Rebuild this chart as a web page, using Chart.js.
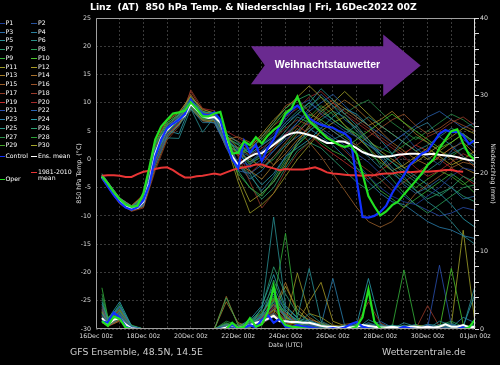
<!DOCTYPE html>
<html>
<head>
<meta charset="utf-8">
<script src="https://cdn.jsdelivr.net/npm/chart.js@4.4.1/dist/chart.umd.min.js"></script>
<style>
  body { margin: 0; background: #000; }
  #wrap { position: relative; width: 500px; height: 365px; background: #000; overflow: hidden;
          font-family: "DejaVu Sans", sans-serif; }
  #chart { position: absolute; left: 0; top: 0; }
  .title { position: absolute; left: 90px; top: 1px; color: #fff; font-weight: bold; font-size: 9.3px; white-space: pre; }
  .foot { position: absolute; top: 346px; color: #ccc; font-size: 9.3px; white-space: pre; }
  .lg { position: absolute; color: #fff; font-size: 6.2px; line-height: 1; white-space: pre; transform: translateY(-50%); }
  .sw { position: absolute; height: 1px; }
</style>
</head>
<body>
<div id="wrap">
  <canvas id="chart" width="500" height="365"></canvas>
  <div class="title">Linz  (AT)  850 hPa Temp. &amp; Niederschlag | Fri, 16Dec2022 00Z</div>
  <div class="foot" style="left:70px">GFS Ensemble, 48.5N, 14.5E</div>
  <div class="foot" style="left:382px">Wetterzentrale.de</div>
  <div id="legend"></div>
</div>
<script>
// forecast hours (since 16Dec 00z)
const MAIN_HOURS = [6,12,18,24,30,36,42,48,54,60,66,72,78,84,90,96,102,108,114,120,126,132,138,144,150,156,162,168,174,180,186,192,198,204,210,216,222,228,234,240,246,252,258,264,270,276,282,288,294,300,306,312,318,324,330,336,342,348,354,360,366,372,378,384];
const PERT_HOURS = [6,12,24,36,48,60,72,84,96,108,120,132,144,156,168,180,192,204,216,228,240,252,264,276,288,300,312,324,336,348,360,372,384];
const X_TICK_LABELS = ['16Dec 00z','18Dec 00z','20Dec 00z','22Dec 00z','24Dec 00z','26Dec 00z','28Dec 00z','30Dec 00z','01Jan 00z'];

// 850 hPa temperature (°C)
const ENS_MEAN_TEMP = [-3.1,-4.5,-6.0,-7.3,-8.2,-8.7,-8.6,-7.5,-4.0,1.0, 3.8,5.2,6.3,7.0,7.8,9.8,8.8,7.6,7.3,7.5, 6.5,3.5,0.5,-1.0,-0.2,0.5,1.0,1.1,1.8,2.6, 3.4,4.2,4.6,4.8,4.6,4.3,4.0,3.4,2.9,2.9, 3.2,3.1,2.6,2.0,1.3,0.9,0.6,0.4,0.5,0.6, 0.8,0.9,1.0,1.0,0.9,0.9,1.0,0.8,0.7,0.6, 0.4,0.1,-0.1,-0.2];
const CONTROL_TEMP = [-3.2,-4.8,-6.3,-7.6,-8.5,-8.9,-8.5,-7.2,-4.5,0.5, 3.5,5.5,6.3,7.0,8.0,10.5,9.0,8.0,7.8,8.3, 7.0,3.0,0.0,-1.5,3.3,1.2,2.6,-0.3,2.0,3.5, 6.0,7.8,8.8,9.5,8.5,7.3,6.6,6.1,5.8,5.6, 5.0,4.6,3.6,-3.5,-10.2,-10.3,-10.0,-9.3,-8.2,-6.0, -4.3,-2.8,-1.0,0.0,1.0,1.5,3.0,4.5,5.2,4.8, 4.9,4.2,2.7,3.4];
const OPER_TEMP = [-3.0,-4.3,-5.8,-7.0,-8.0,-8.4,-8.2,-6.0,-1.5,3.5, 5.8,7.0,8.1,8.3,8.6,10.1,9.0,7.6,7.6,8.1, 8.4,4.5,1.0,1.2,3.2,2.5,3.9,2.8,4.2,5.2, 6.0,8.1,9.0,11.1,8.5,6.8,5.8,4.8,3.8,3.2, 2.6,2.2,2.5,1.0,-2.5,-6.5,-8.3,-9.9,-9.2,-8.1, -7.5,-6.2,-5.0,-3.8,-2.5,-1.0,0.0,2.0,3.5,5.0, 5.3,2.8,0.8,-0.1];
const CLIM_TEMP = [-2.9,-2.8,-2.8,-2.9,-3.1,-3.1,-2.6,-2.2,-2.0,-1.7, -1.5,-1.4,-1.9,-2.6,-3.2,-3.2,-3.0,-2.9,-2.7,-2.5, -2.7,-2.3,-1.9,-1.6,-1.4,-1.2,-0.9,-0.9,-1.3,-1.6, -1.9,-1.7,-1.8,-1.8,-1.8,-1.6,-1.4,-1.8,-2.3,-2.5, -2.6,-2.7,-2.8,-2.8,-2.9,-2.8,-2.8,-2.6,-2.5,-2.5, -2.3,-2.2,-2.3,-2.2,-2.1,-2.2,-2.1,-2.0,-1.9,-1.9, -2.1,-2.2,null,null];

// precipitation (mm / 6h)
const ENS_MEAN_RAIN = [1.4,0.6,1.2,1.4,0.6,0.1,0,0,0,0, 0,0,0,0,0,0,0,0,0,0, 0,0.2,0.5,0.1,0.3,0.5,0.8,1.0,1.3,1.7, 1.0,1.0,0.9,0.9,0.8,0.8,0.6,0.4,0.3,0.3, 0.2,0.3,0.2,0.3,0.5,0.4,0.3,0.2,0.2,0.3, 0.2,0.2,0.3,0.3,0.2,0.3,0.2,0.3,0.6,0.3, 0.3,0.5,0.2,0.3];
const CONTROL_RAIN = [1.0,0.8,2.1,1.5,0.3,0,0,0,0,0, 0,0,0,0,0,0,0,0,0,0, 0,0,0.6,0,0.2,0.5,0.2,1.2,1.8,0.8, 1.3,0.3,0.2,0.5,0.3,0.2,0.1,0,0,0.1, 0,0.2,0.6,0.9,0.3,0.1,0,0,0,0, 0,0.3,0.1,0,0,0,0,0,0,0, 0,0.2,0,0];
const OPER_RAIN = [1.0,0.4,1.6,1.3,0.2,0,0,0,0,0, 0,0,0,0,0,0,0,0,0,0, 0,0,0.8,0.1,0.3,1.4,0.3,0.6,2.2,5.5, 1.5,0.5,0.3,0.2,0.1,0,0,0,0,0, 0,0,0,0.3,1.5,5.1,1.0,0.1,0,0, 0,0,0,0,0,0,0,0,0,0, 0,0,0.2,1.2];

// perturbations, temperature
const P01_TEMP = [-3.0,-4.6,-7.5,-8.9,-8.0,-0.5,4.5,6.6,9.8,7.4,7.2, 3.0,-0.5,-1.0,1.5,4.0,6.5,8.0,7.0,5.0,3.5,2.0,-0.5,-3.0,-5.0,-6.5,-7.5,-8.0,-6.5,-5.0,-3.0,-1.5,-2.0];
const P02_TEMP = [-3.2,-4.3,-7.0,-8.5,-7.0,1.8,5.8,7.6,10.2,8.0,7.9, 4.0,1.5,0.5,2.5,4.5,7.0,9.5,10.5,8.0,6.5,5.0,4.0,2.5,1.5,3.0,4.5,2.0,0.5,-1.0,1.5,3.5,2.0];
const P03_TEMP = [-2.8,-4.5,-7.4,-8.6,-7.6,0.8,5.0,7.5,10.5,8.2,7.0, 2.0,-2.0,-2.5,-1.0,1.5,4.0,6.5,9.0,11.5,9.5,7.0,5.5,3.0,0.5,-2.0,-4.5,-6.0,-5.0,-3.5,-5.0,-7.0,-6.5];
const P04_TEMP = [-3.3,-4.8,-7.7,-9.0,-8.2,-1.0,4.0,6.0,9.0,6.5,6.5, 2.5,-1.0,-3.0,-5.5,-3.0,0.5,3.0,5.0,6.5,5.0,3.5,2.0,0.5,-1.5,1.0,3.5,5.5,6.5,4.0,2.5,0.5,-1.0];
const P05_TEMP = [-2.5,-4.0,-6.8,-8.3,-6.8,2.0,3.8,3.7,9.0,4.8,7.5, 4.5,3.0,1.0,2.5,4.0,6.0,8.0,10.0,12.5,10.5,8.0,6.0,3.5,1.0,-1.5,-3.0,-5.5,-7.5,-9.0,-11.0,-13.5,-15.0];
const P06_TEMP = [-3.0,-4.5,-7.3,-8.7,-7.5,1.2,5.4,7.2,10.0,7.7,7.4, 3.2,2.0,-0.5,1.0,2.5,5.0,7.5,6.5,5.0,3.5,4.5,6.0,7.5,6.0,4.5,3.0,1.5,2.5,4.0,5.5,4.5,3.0];
const P07_TEMP = [-3.4,-4.9,-7.6,-8.9,-7.2,2.5,6.0,7.8,11.0,8.5,8.0, 4.5,-1.0,-2.5,-6.0,-4.0,-0.5,2.5,5.0,7.0,8.5,7.5,5.0,3.0,1.0,-0.5,-2.5,-4.0,-5.5,-6.5,-5.0,-3.0,-4.0];
const P08_TEMP = [-2.9,-4.3,-7.1,-8.5,-6.5,2.8,6.4,8.0,10.4,8.3,8.3, 4.0,1.0,1.5,4.0,6.5,9.0,10.5,11.5,9.0,7.0,5.5,4.5,2.0,-1.0,-3.5,-6.0,-8.0,-9.5,-8.0,-6.5,-5.0,-4.5];
const P09_TEMP = [-3.1,-4.5,-7.3,-8.7,-7.6,0.5,5.0,6.8,9.6,7.2,7.2, 2.5,-2.5,-5.0,-6.5,-3.5,0.0,2.5,4.5,3.0,1.5,0.5,-1.5,-3.0,-5.5,-7.0,-8.5,-7.0,-5.5,-4.0,-2.5,-4.0,-6.0];
const P10_TEMP = [-3.0,-4.4,-7.2,-8.6,-7.0,1.8,5.6,7.4,10.0,7.8,7.6, 3.8,1.0,2.0,3.5,6.0,8.5,9.5,7.5,5.0,3.0,2.0,3.5,5.0,6.5,8.0,6.5,5.0,3.5,2.0,3.0,4.5,2.5];
const P11_TEMP = [-3.2,-4.7,-7.5,-8.9,-8.1,-0.2,4.3,6.2,9.2,7.0,6.8, 2.8,-4.0,-9.5,-8.0,-6.0,-3.0,0.0,2.5,5.0,6.5,7.5,5.5,3.5,1.5,0.0,-1.5,-0.5,1.0,2.5,4.0,5.5,4.5];
const P12_TEMP = [-2.7,-4.0,-6.9,-8.2,-6.4,3.0,6.8,8.2,11.2,8.8,8.2, 4.2,2.0,2.0,4.5,7.0,9.0,11.0,13.0,11.0,8.5,6.0,4.0,2.0,0.0,-2.0,-1.0,0.5,2.0,0.5,-1.0,0.0,1.5];
const P13_TEMP = [-3.1,-4.6,-7.4,-8.8,-7.7,0.7,4.9,6.9,9.7,7.5,7.3, 3.0,-1.0,-2.0,-3.5,-1.0,2.0,4.5,7.0,9.0,10.5,9.0,7.5,6.0,7.0,8.5,6.5,4.5,3.0,1.5,0.0,-1.5,-2.5];
const P14_TEMP = [-3.3,-4.9,-7.8,-9.1,-8.4,-1.5,3.8,6.1,8.9,6.8,6.6, 3.5,4.0,3.0,1.0,-1.0,1.0,3.5,5.5,7.5,9.0,10.5,9.0,7.0,5.0,3.0,1.5,0.0,-1.0,0.5,2.0,3.0,1.0];
const P15_TEMP = [-3.0,-4.5,-7.3,-8.7,-7.4,1.0,5.3,7.1,11.5,8.2,7.7, 3.0,1.0,0.0,-1.5,0.5,3.0,5.5,3.0,0.5,-2.5,-5.5,-8.5,-11.0,-12.0,-11.0,-8.5,-6.0,-4.5,-3.0,-1.5,-0.5,-1.0];
const P16_TEMP = [-2.9,-4.2,-7.0,-8.4,-6.8,2.2,5.9,7.6,10.1,7.9,7.8, 4.0,3.2,1.8,4.0,6.5,9.5,10.5,8.5,6.5,5.0,3.5,2.5,4.0,5.5,7.0,8.0,6.0,4.5,5.5,7.0,6.0,5.0];
const P17_TEMP = [-3.5,-5.0,-7.9,-9.2,-8.6,-2.0,3.4,5.8,12.3,9.0,8.0, 3.5,0.5,-4.0,-8.6,-6.0,-2.0,1.0,3.0,5.0,3.5,1.5,-0.5,-2.0,-3.5,-5.5,-4.0,-2.5,-1.0,0.5,2.0,0.5,-1.5];
const P18_TEMP = [-3.1,-4.5,-7.3,-8.7,-7.5,1.0,5.2,7.0,12.0,8.6,7.5, 3.2,1.8,0.8,2.0,3.5,5.5,7.0,6.0,8.0,10.0,8.5,7.0,5.5,4.0,2.5,1.0,2.5,4.0,5.0,6.5,7.5,6.0];
const P19_TEMP = [-3.2,-4.8,-7.6,-8.9,-8.0,-0.4,4.4,6.4,10.5,7.6,7.0, 2.0,0.8,-2.5,-0.5,2.0,4.5,6.0,4.5,2.5,1.0,-0.5,-2.0,-3.5,-2.0,-0.5,1.0,2.5,1.5,0.0,-1.5,-3.0,-4.5];
const P20_TEMP = [-2.8,-4.1,-6.8,-8.2,-6.2,3.5,7.0,8.4,11.0,9.0,8.6, 5.0,3.8,2.5,4.0,6.0,7.5,9.0,11.0,12.0,10.0,8.0,6.5,5.0,3.5,2.0,0.5,-1.5,-3.0,-2.0,-0.5,1.0,0.0];
const P21_TEMP = [-3.0,-4.6,-7.4,-8.7,-7.7,0.4,4.8,6.7,9.4,7.3,7.0, 2.5,1.2,-1.5,0.0,1.5,3.5,5.0,6.5,5.5,4.0,2.5,1.0,-0.5,-2.5,-4.5,-6.5,-8.0,-9.0,-10.0,-9.5,-8.5,-9.0];
const P22_TEMP = [-3.3,-4.8,-7.7,-9.0,-8.3,-0.8,4.2,6.3,9.0,6.9,6.4, 2.2,1.6,-0.5,1.5,3.0,4.5,6.5,8.5,10.0,11.5,9.5,7.5,6.0,4.5,3.0,4.5,6.0,7.5,8.5,7.0,5.5,6.5];
const P23_TEMP = [-2.9,-4.4,-7.2,-8.6,-7.1,1.6,5.5,7.3,10.2,7.8,7.7, 3.6,-1.0,-3.5,-2.0,0.5,2.5,4.0,5.5,4.0,2.5,0.5,-1.5,-4.0,-6.0,-7.5,-8.0,-9.5,-11.0,-12.0,-12.5,-13.5,-14.0];
const P24_TEMP = [-3.0,-4.5,-7.3,-8.7,-7.6,0.9,5.1,4.5,9.7,7.5,7.4, 3.4,1.7,-2.0,-4.5,-2.5,0.5,2.0,3.5,5.5,7.5,9.0,8.0,6.0,3.5,1.0,-1.5,-3.0,-4.5,-6.0,-8.0,-10.5,-12.0];
const P25_TEMP = [-3.1,-4.5,-7.3,-8.7,-7.4,1.3,5.4,7.1,9.9,7.7,7.5, 3.7,2.6,1.0,2.5,4.0,6.5,8.5,10.0,8.5,7.0,5.5,4.0,2.5,1.0,-0.5,-2.0,-3.5,-2.0,-0.5,1.0,2.0,0.5];
const P26_TEMP = [-2.8,-4.2,-7.0,-8.3,-6.6,2.6,6.5,7.9,10.6,8.4,8.1, 4.4,-2.0,-5.0,-7.0,-5.0,-1.5,1.5,3.0,2.0,0.0,-2.0,-4.0,-5.5,-4.0,-2.5,-4.0,-5.5,-7.0,-6.0,-5.0,-6.5,-7.5];
const P27_TEMP = [-3.2,-4.7,-7.5,-8.8,-7.9,0.0,4.7,6.5,9.3,7.1,6.9, 2.6,1.3,-1.0,1.0,3.5,6.0,8.0,9.5,11.0,9.5,8.0,9.5,10.5,8.5,6.5,5.0,3.5,5.0,6.5,8.0,7.0,5.5];
const P28_TEMP = [-3.0,-4.5,-7.3,-8.7,-7.3,1.5,5.6,7.3,10.1,7.9,7.7, 3.9,2.7,0.3,-1.5,0.0,2.5,5.0,7.5,9.5,8.0,6.0,4.5,3.0,2.0,1.0,2.5,4.0,3.0,1.5,0.5,2.0,3.5];
const P29_TEMP = [-3.1,-4.6,-7.4,-8.8,-7.8,0.6,5.0,6.9,9.5,7.4,7.1, 3.1,1.9,-0.8,0.5,2.0,4.0,6.0,8.0,7.0,5.5,4.0,2.5,1.0,-0.5,-2.0,-3.5,-5.0,-3.5,-2.0,-3.0,-4.5,-3.0];
const P30_TEMP = [-2.9,-4.3,-7.1,-8.5,-6.9,2.0,6.1,7.8,10.7,8.1,8.0, 4.2,-3.0,-7.5,-6.0,-4.0,-1.0,3.0,6.0,8.5,10.0,12.0,10.0,8.0,6.0,4.5,3.0,1.5,0.0,1.5,3.0,4.5,3.0];

// perturbations, precipitation
const P01_RAIN = [1.8,0.6,1.5,0.2,0,0,0,0,0,0,0, 0.3,0,0.4,0.8,1.5,0.6,0.2,0.5,0,0,0.3,0,0.8,0.2,0,0,0.4,0,0.2,0,0,0];
const P02_RAIN = [1.2,0.5,2.0,0.1,0,0,0,0,0,0,0, 0,0.2,0.6,1.2,2.0,0.8,1.0,0.3,0.5,0,0,0.2,0.5,0,0.3,0,0,0.2,0,0.6,0.3,0];
const P03_RAIN = [2.5,0.9,2.8,0.3,0,0,0,0,0,0,0, 0.5,0,0.3,1.6,3.0,1.8,0.5,1.2,0.4,0.2,0,0,0.3,1.0,0.2,0,0,0.5,0,0.2,0,0.4];
const P04_RAIN = [1.0,0.4,1.3,0,0,0,0,0,0,0,0, 0.2,0.1,0.8,2.0,4.5,2.5,1.0,0.6,0.2,0,0.5,0.3,0,0.2,0,0.3,0,0,0.6,0,0.2,0];
const P05_RAIN = [3.2,1.2,3.0,0.4,0,0,0,0,0,0,0, 0,0,1.0,2.5,14.4,3.0,1.5,7.8,1.0,0.3,0.2,0,1.2,0.5,0,0.8,0.3,0,1.0,0.5,0.2,5.5];
const P06_RAIN = [1.5,0.8,2.2,0.2,0,0,0,0,0,0,0, 0.6,0.3,0.5,1.8,5.0,1.2,0.6,2.0,0.8,0,0.3,0.6,0.2,0,0.5,0.2,0,0.3,0,0.4,0,0.6];
const P07_RAIN = [2.0,0.7,1.8,0.1,0,0,0,0,0,0,0, 0.3,0,0.4,2.8,8.0,4.5,2.0,1.0,0.5,0.2,0,0.4,0.6,0.3,0,0.5,0.2,0,0.3,0.8,0,0.2];
const P08_RAIN = [4.0,1.0,3.2,0.3,0,0,0,0,0,0,0, 4.0,0.5,0.6,1.5,6.3,2.5,0.8,0.5,0.2,0,0.5,0.2,0.8,0.3,0.4,0,0.2,0,0.5,1.0,0.3,0.2];
const P09_RAIN = [5.3,1.5,2.5,0.5,0,0,0,0,0,0,0, 0.8,0.2,0.2,1.0,3.5,12.3,1.2,0.8,0.6,0.2,0,0.5,0.3,0,0.2,7.6,0.5,0,0.3,0.2,0,0.5];
const P10_RAIN = [1.2,0.6,1.9,0.2,0,0,0,0,0,0,0, 0.4,0,0.9,2.2,4.0,1.5,0.7,0.4,0,0.3,0.2,0,0.5,0.2,0,0.3,0,0.2,0,7.8,0.6,0];
const P11_RAIN = [2.2,0.7,1.4,0.1,0,0,0,0,0,0,0, 0.5,0.3,0.2,1.2,2.5,1.0,7.2,2.0,1.5,0.5,0.3,0.2,0,0.4,0.2,0,0.5,0.3,0,0.2,0.5,0];
const P12_RAIN = [1.4,0.5,1.6,0,0,0,0,0,0,0,0, 0.2,0,0.6,0.8,2.0,0.6,0.8,3.5,6.0,1.0,0.4,0,0.2,0,0.3,0.2,0,0,0.4,0.3,0,0.2];
const P13_RAIN = [1.6,0.6,1.2,0.1,0,0,0,0,0,0,0, 3.5,0.8,0.3,0.6,1.8,0.8,3.0,1.5,0.6,0.2,0,0.3,0.5,0.2,0,0.2,0.4,0,0.2,0,0.3,0];
const P14_RAIN = [0.8,0.4,1.0,0,0,0,0,0,0,0,0, 4.2,0.5,0.4,1.0,2.4,6.0,2.0,1.2,0.8,0.3,0,0.2,0,0.3,0.2,0,0,0.4,0,0.2,0,0.3];
const P15_RAIN = [2.6,1.0,2.4,0.2,0,0,0,0,0,0,0, 0.3,0,0.5,1.5,3.2,1.4,0.9,0.5,0.2,0,0.6,0.8,0.3,0.2,0,0.3,0,0.2,0.5,0,0.2,0];
const P16_RAIN = [1.1,0.5,1.7,0.1,0,0,0,0,0,0,0, 0.6,0.2,0.3,0.9,2.2,1.0,0.5,0.8,0.4,0,0.2,0.3,0.5,0,0.2,0,0.3,0,0.2,0.4,0,0];
const P17_RAIN = [3.0,1.1,2.0,0.3,0,0,0,0,0,0,0, 0.2,0,0.8,2.0,3.8,1.6,0.6,0.3,0.2,0.4,0,0.5,3.5,0.8,0,0.2,0,0.3,0,0.2,0,0.2];
const P18_RAIN = [1.7,0.6,1.5,0.1,0,0,0,0,0,0,0, 0.4,0.1,0.2,1.1,2.8,1.1,0.5,0.2,0.6,0.2,0,0.2,0.4,0,0.2,0,0,3.0,0.3,0,0.2,0];
const P19_RAIN = [2.4,0.8,2.6,0.2,0,0,0,0,0,0,0, 0.3,0,0.6,1.4,3.0,2.0,0.8,0.6,0.3,0,0.2,0,0.6,0.2,0,0.4,0.2,0,0,0.3,0,0.4];
const P20_RAIN = [0.9,0.3,1.1,0,0,0,0,0,0,0,0, 0.2,0,0.4,0.7,1.6,0.8,0.3,0.2,0,0.2,0,0.3,0.2,0,0.3,0,0.2,0,0.4,0,0.2,0];
const P21_RAIN = [1.9,0.7,2.1,0.2,0,0,0,0,0,0,0, 0.5,0.2,0.6,1.3,2.6,1.2,0.6,0.4,0.2,0,0.3,0.2,0,0.5,0.2,0,0.3,0.2,8.2,0.5,0,0.3];
const P22_RAIN = [2.8,0.9,2.9,0.3,0,0,0,0,0,0,0, 0.3,0,0.5,1.7,3.4,1.5,1.0,0.6,0.3,0.2,0,0.4,0.5,0.2,0,0.3,0,0.5,0.2,0,0.4,0];
const P23_RAIN = [1.3,0.5,1.8,0.1,0,0,0,0,0,0,0, 0.2,0.4,0.9,2.6,5.5,2.2,1.2,0.8,0.5,6.5,0.4,0.2,0.3,0,0.5,0.2,0.6,0,0.3,0.2,1.5,0.8];
const P24_RAIN = [3.5,1.3,3.5,0.4,0,0,0,0,0,0,0, 0.6,0.3,1.2,3.0,7.0,2.8,1.4,1.0,0.6,0.3,0.2,0.5,6.5,0.6,0.3,0.4,0.2,0.6,0.4,0.5,0.3,4.5];
const P25_RAIN = [1.5,0.6,1.6,0.1,0,0,0,0,0,0,0, 0.4,0.2,0.7,1.6,3.6,1.8,0.7,0.4,0.2,0,0.3,0.2,0.4,0.2,0,0.3,0.2,0,0.2,0.3,0,0.2];
const P26_RAIN = [2.1,0.8,2.3,0.2,0,0,0,0,0,0,0, 0.7,0.3,0.6,1.9,4.2,2.0,0.9,0.7,0.3,0.2,0,0.6,0.4,0.3,0.2,0,0.5,0.2,0,0.4,0.2,0.5];
const P27_RAIN = [4.5,1.4,2.7,0.4,0,0,0,0,0,0,0, 1.0,0.5,0.4,1.3,3.2,1.6,0.8,0.6,0.3,0.2,0.3,0.2,0.6,0.2,0.4,0.2,0,0.3,0.2,0,0.5,0.3];
const P28_RAIN = [1.8,0.7,2.0,0.2,0,0,0,0,0,0,0, 0.5,0.1,0.3,1.8,4.8,1.7,0.6,0.5,0.3,0,0.2,0.3,0.5,0,0.2,0.3,0,0.2,0.3,0.6,0,0.2];
const P29_RAIN = [2.3,0.8,2.2,0.2,0,0,0,0,0,0,0, 0.6,0.2,0.5,1.5,3.8,2.2,1.1,0.5,0.4,0.2,0,0.2,0.3,0.2,0,0.4,0.2,0,0.2,0.5,0.4,0.3];
const P30_RAIN = [1.0,0.4,1.2,0,0,0,0,0,0,0,0, 0.3,0,0.4,0.8,2.0,5.5,2.5,1.0,0.5,0.2,0,0.3,0.2,0,0.3,0,0.2,0.3,0,0.5,12.7,0.8];

const PERT_TEMP = [P01_TEMP,P02_TEMP,P03_TEMP,P04_TEMP,P05_TEMP,P06_TEMP,P07_TEMP,P08_TEMP,P09_TEMP,P10_TEMP,
  P11_TEMP,P12_TEMP,P13_TEMP,P14_TEMP,P15_TEMP,P16_TEMP,P17_TEMP,P18_TEMP,P19_TEMP,P20_TEMP,
  P21_TEMP,P22_TEMP,P23_TEMP,P24_TEMP,P25_TEMP,P26_TEMP,P27_TEMP,P28_TEMP,P29_TEMP,P30_TEMP];
const PERT_RAIN = [P01_RAIN,P02_RAIN,P03_RAIN,P04_RAIN,P05_RAIN,P06_RAIN,P07_RAIN,P08_RAIN,P09_RAIN,P10_RAIN,
  P11_RAIN,P12_RAIN,P13_RAIN,P14_RAIN,P15_RAIN,P16_RAIN,P17_RAIN,P18_RAIN,P19_RAIN,P20_RAIN,
  P21_RAIN,P22_RAIN,P23_RAIN,P24_RAIN,P25_RAIN,P26_RAIN,P27_RAIN,P28_RAIN,P29_RAIN,P30_RAIN];

const PERT_COLORS = ['#1f3f99','#25509c','#2a6aa4','#2b7f9c','#2a9296','#2a8f86','#2a9a70','#2aa55a','#35b53a','#4bc52a',
  '#9a9a25','#a89a25','#a8802a','#a8702a','#9c5f2a','#9a5228','#8f3a26','#9a3a2a','#c02a2a','#a52a2a',
  '#2a4fb0','#2a62b0','#2a80b0','#2aa0b0','#2a9a8a','#2aa070','#2a9048','#2aa035','#45a52a','#a5a52a'];
const OPER_COLOR = '#22e022';
const CONTROL_COLOR = '#1030ff';
const MEAN_COLOR = '#ffffff';
const CLIM_COLOR = '#e83535';
const FONT = '"DejaVu Sans", sans-serif';

function series(hours, values) {
  return hours.map((h, i) => ({ x: h, y: values[i] }));
}

const datasets = [];
PERT_TEMP.forEach((vals, i) => {
  datasets.push({ data: series(PERT_HOURS, vals), yAxisID: 'yT', borderColor: PERT_COLORS[i], borderWidth: 0.8, order: 5 });
  datasets.push({ data: series(PERT_HOURS, PERT_RAIN[i]), yAxisID: 'yP', borderColor: PERT_COLORS[i], borderWidth: 0.8, order: 5 });
});
datasets.push({ data: series(MAIN_HOURS, CLIM_TEMP), yAxisID: 'yT', borderColor: CLIM_COLOR, borderWidth: 2, order: 3 });
datasets.push({ data: series(MAIN_HOURS, ENS_MEAN_TEMP), yAxisID: 'yT', borderColor: MEAN_COLOR, borderWidth: 2, order: 2 });
datasets.push({ data: series(MAIN_HOURS, ENS_MEAN_RAIN), yAxisID: 'yP', borderColor: MEAN_COLOR, borderWidth: 2, order: 2 });
datasets.push({ data: series(MAIN_HOURS, CONTROL_TEMP), yAxisID: 'yT', borderColor: CONTROL_COLOR, borderWidth: 2.2, order: 1 });
datasets.push({ data: series(MAIN_HOURS, CONTROL_RAIN), yAxisID: 'yP', borderColor: CONTROL_COLOR, borderWidth: 2.2, order: 1 });
datasets.push({ data: series(MAIN_HOURS, OPER_TEMP), yAxisID: 'yT', borderColor: OPER_COLOR, borderWidth: 2.2, order: 0 });
datasets.push({ data: series(MAIN_HOURS, OPER_RAIN), yAxisID: 'yP', borderColor: OPER_COLOR, borderWidth: 2.2, order: 0 });

// purple annotation arrow, in forecast hours / °C
const ARROW_TEXT = 'Weihnachtstauwetter';

const decor = {
  id: 'decor',
  afterDatasetsDraw(chart) {
    const { ctx, chartArea: a, scales } = chart;
    const X = v => scales.x.getPixelForValue(v);
    const Y = v => scales.yT.getPixelForValue(v);
    ctx.save();
    // frame
    ctx.lineWidth = 1;
    ctx.strokeStyle = '#a0a0a0';
    ctx.beginPath();
    ctx.moveTo(a.right, a.top + 0.5); ctx.lineTo(a.left + 0.5, a.top + 0.5);
    ctx.lineTo(a.left + 0.5, a.bottom - 0.5); ctx.lineTo(a.right, a.bottom - 0.5);
    ctx.stroke();
    ctx.strokeStyle = '#e0e0e0';
    ctx.beginPath();
    ctx.moveTo(a.right - 0.5, a.top); ctx.lineTo(a.right - 0.5, a.bottom);
    ctx.stroke();
    // arrow
    const pts = [[157, 20], [291, 20], [291, 22.1], [329, 16.6], [291, 11.1], [291, 13.3], [157, 13.3], [171, 16.65]];
    ctx.fillStyle = '#6a2a90';
    ctx.beginPath();
    pts.forEach(([h, t], i) => i ? ctx.lineTo(X(h), Y(t)) : ctx.moveTo(X(h), Y(t)));
    ctx.closePath();
    ctx.fill();
    ctx.fillStyle = '#fff';
    ctx.font = 'bold 10.5px "Liberation Sans", Arial, sans-serif';
    ctx.textAlign = 'center';
    ctx.textBaseline = 'middle';
    ctx.fillText(ARROW_TEXT, X(234.5), Y(16.65));
    ctx.restore();
  }
};

const tickFont = { size: 6.3, family: FONT };

new Chart(document.getElementById('chart'), {
  type: 'line',
  data: { datasets },
  options: {
    responsive: false,
    animation: false,
    events: [],
    layout: { padding: { left: 70, top: 18, right: 0, bottom: 0 } },
    plugins: { legend: { display: false }, tooltip: { enabled: false } },
    elements: { point: { radius: 0 }, line: { tension: 0, fill: false } },
    scales: {
      x: {
        type: 'linear', min: 0, max: 384,
        afterFit: s => { s.height = 36; },
        ticks: {
          stepSize: 24, autoSkip: false, maxRotation: 0, color: '#ddd', font: tickFont, padding: 4,
          callback: v => (v % 48 === 0 ? X_TICK_LABELS[v / 48] : '')
        },
        grid: { color: '#4a4a4a', lineWidth: 0.8, drawTicks: false },
        border: { display: false, dash: [2, 2] },
        title: { display: true, text: 'Date (UTC)', color: '#ddd', font: tickFont, padding: { top: 0, bottom: 15.5 } }
      },
      yT: {
        position: 'left', min: -30, max: 25,
        afterFit: s => { s.width = 26; },
        ticks: { stepSize: 5, color: '#ddd', font: tickFont, padding: 5 },
        grid: { color: '#4a4a4a', lineWidth: 0.8, drawTicks: false },
        border: { display: false, dash: [2, 2] },
        title: { display: true, text: '850 hPa Temp. (°C)', color: '#ddd', font: tickFont, padding: { top: 5.2, bottom: 0 } }
      },
      yP: {
        position: 'right', min: 0, max: 40,
        afterFit: s => { s.width = 25; },
        ticks: { stepSize: 2, autoSkip: false, color: '#ddd', font: tickFont, padding: 1,
          callback: v => (v % 10 === 0 ? v : '') },
        grid: { drawOnChartArea: false, drawTicks: true, tickLength: 4, color: '#ddd', lineWidth: 1 },
        border: { display: false },
        title: { display: true, text: 'Niederschlag (mm)', color: '#ddd', font: tickFont, padding: { top: 3.2, bottom: 0 } }
      }
    }
  },
  plugins: [decor]
});

// legend (left column block)
const legend = document.getElementById('legend');
function addEntry(label, color, col, y, swatchY) {
  const sw = document.createElement('div');
  sw.className = 'sw';
  sw.style.background = color;
  sw.style.left = (col ? 31 : 0) + 'px';
  sw.style.width = (col ? 6 : 5) + 'px';
  sw.style.top = Math.round(swatchY === undefined ? y : swatchY) + 'px';
  legend.appendChild(sw);
  const t = document.createElement('div');
  t.className = 'lg';
  t.textContent = label;
  t.style.left = (col ? 38 : 5.5) + 'px';
  t.style.top = y + 'px';
  legend.appendChild(t);
}
PERT_COLORS.forEach((c, i) => addEntry('P' + (i + 1), c, i % 2, 23 + Math.floor(i / 2) * 8.74));
addEntry('Control', CONTROL_COLOR, 0, 155.7);
addEntry('Ens. mean', MEAN_COLOR, 1, 155.7);
addEntry('1981-2010\nmean', CLIM_COLOR, 1, 174.8, 171.7);
addEntry('Oper', OPER_COLOR, 0, 179.3);
</script>
</body>
</html>
